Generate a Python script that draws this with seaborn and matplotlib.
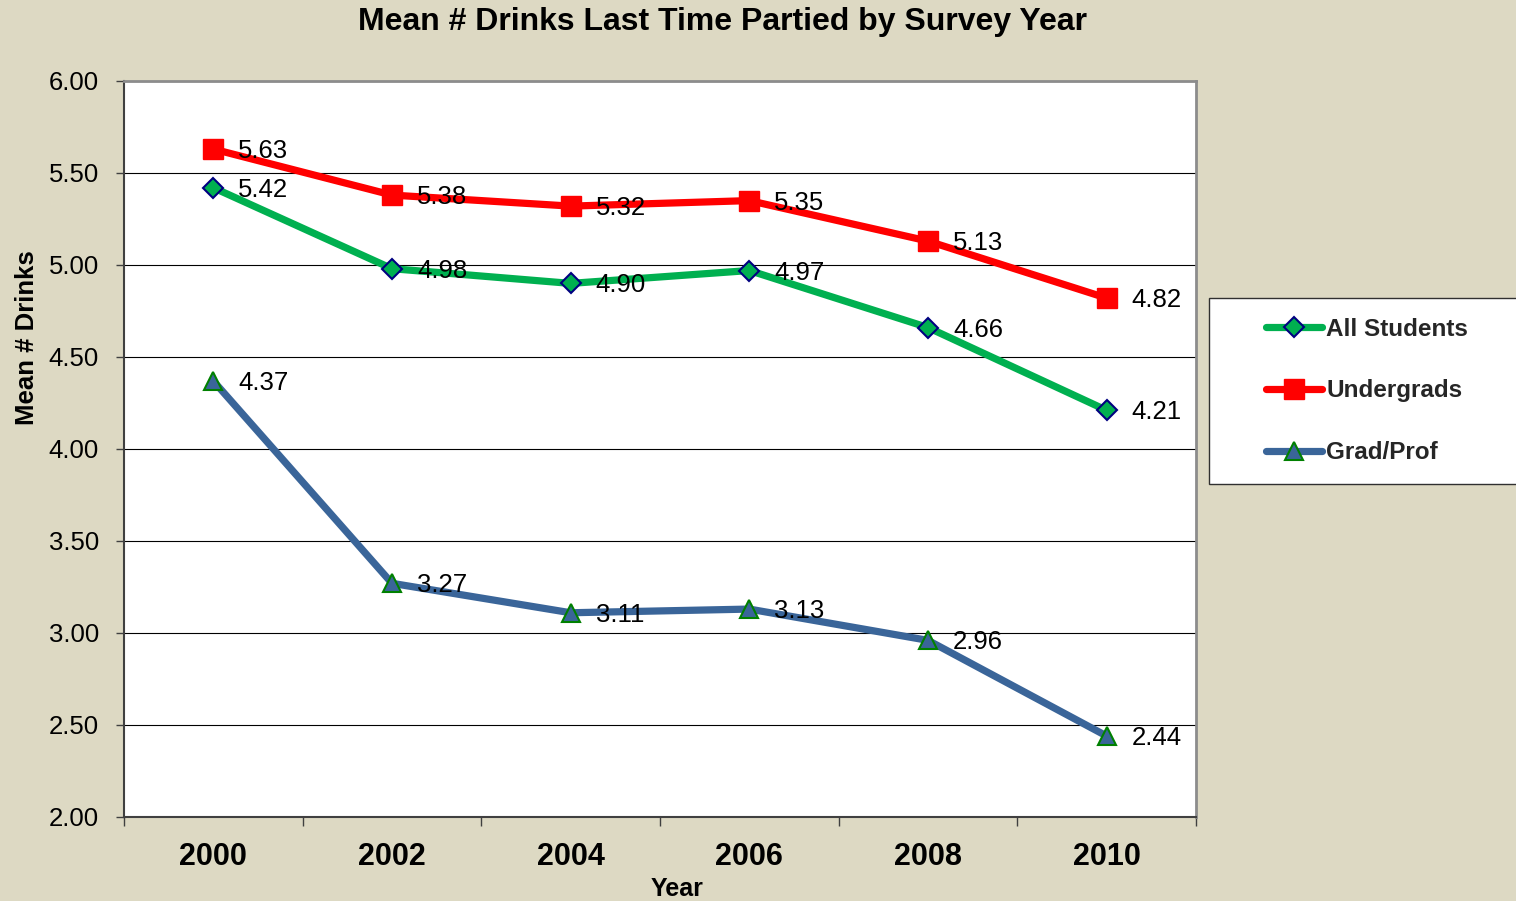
import matplotlib
matplotlib.use("Agg")
import matplotlib.pyplot as plt
import matplotlib.patches as mpatches
from matplotlib.ticker import FixedLocator, MultipleLocator, FormatStrFormatter
import seaborn as sns
import pandas as pd

# Survey data
years = ["2000", "2002", "2004", "2006", "2008", "2010"]
all_students = [5.42, 4.98, 4.90, 4.97, 4.66, 4.21]
undergrads = [5.63, 5.38, 5.32, 5.35, 5.13, 4.82]
grad_prof = [4.37, 3.27, 3.11, 3.13, 2.96, 2.44]
series_names = ["All Students", "Undergrads", "Grad/Prof"]
series_values = [all_students, undergrads, grad_prof]

sns.set_theme(style="white")
plt.rcParams["font.family"] = ["Liberation Sans", "DejaVu Sans"]

BG = "#DDD9C3"
fig = plt.figure(figsize=(15.16, 9.01), dpi=100, facecolor=BG)
ax = fig.add_axes([124 / 1516, 1 - 817 / 901, (1196 - 124) / 1516, (817 - 81) / 901])
ax.set_facecolor("white")

styles = [
    dict(color="#00B050", marker="D", markersize=9.7, markerfacecolor="#00B050",
         markeredgecolor="#000080", markeredgewidth=1.5),
    dict(color="#FF0000", marker="s", markersize=14, markerfacecolor="#FF0000",
         markeredgecolor="#FF0000", markeredgewidth=1),
    dict(color="#3A6599", marker="^", markersize=13, markerfacecolor="#3A6599",
         markeredgecolor="#008000", markeredgewidth=1.5),
]

handles = []
for name, vals, st in zip(series_names, series_values, styles):
    df = pd.DataFrame({"Year": years, "Mean": vals})
    sns.lineplot(data=df, x="Year", y="Mean", ax=ax, linewidth=5.2, errorbar=None,
                 legend=False, zorder=3, **st)
    handles.append(ax.get_lines()[-1])
    for yr, v in zip(years, vals):
        ax.annotate(f"{v:.2f}", xy=(yr, v), xytext=(18, -1.5), textcoords="offset points",
                    ha="left", va="center", fontsize=18.5, color="black", zorder=4)

# Axes limits, ticks and grid
ax.set_xlim(-0.5, 5.5)
ax.set_ylim(2, 6)
ax.yaxis.set_major_locator(MultipleLocator(0.5))
ax.yaxis.set_major_formatter(FormatStrFormatter("%.2f"))
ax.xaxis.set_minor_locator(FixedLocator([k - 0.5 for k in range(7)]))
ax.grid(axis="y", color="black", linewidth=0.8, zorder=0)
ax.grid(axis="x", visible=False)
ax.set_axisbelow(True)

ax.tick_params(axis="y", which="major", left=True, length=6, width=1, color="#404040",
               direction="out", pad=12, labelsize=18.5, labelcolor="black")
ax.tick_params(axis="x", which="major", bottom=True, length=0, pad=18, labelsize=22,
               labelcolor="black")
ax.tick_params(axis="x", which="minor", bottom=True, length=6.5, width=1, color="#404040",
               direction="out")
for lbl in ax.get_xticklabels():
    lbl.set_fontweight("bold")

for s in ["left", "bottom"]:
    ax.spines[s].set_color("#404040")
    ax.spines[s].set_linewidth(1.5)
for s in ["top", "right"]:
    ax.spines[s].set_color("#8C8C8C")
    ax.spines[s].set_linewidth(2)

# Axis labels
ax.set_ylabel("Mean # Drinks", fontsize=18.5, fontweight="bold", color="black")
ax.yaxis.set_label_coords(-0.0905, (817 - 338) / 736)
ax.yaxis.label.set_va("center")
ax.set_xlabel("Year", fontsize=18, fontweight="bold", color="black")
ax.xaxis.set_label_coords((677 - 124) / 1072, (817 - 889) / 736)
ax.xaxis.label.set_va("center")

# Title
fig.text(722 / 1516, 1 - 22 / 901, "Mean # Drinks Last Time Partied by Survey Year",
         ha="center", va="center", fontsize=23, fontweight="bold", color="black")

# Legend box and entries
fig.add_artist(mpatches.Rectangle((1209 / 1516, 1 - 484 / 901), (1530 - 1209) / 1516,
                                  (484 - 298) / 901, transform=fig.transFigure,
                                  facecolor="white", edgecolor="#303030", linewidth=1,
                                  zorder=-1))
fig.legend(handles, series_names, loc="center left",
           bbox_to_anchor=(1266 / 1516, 1 - 391 / 901), frameon=False, borderpad=0,
           borderaxespad=0, handlelength=2.3, handletextpad=0.17, labelspacing=1.6,
           numpoints=1, prop={"size": 17.5, "weight": "bold"})

fig.savefig("out.png", dpi=100, facecolor=BG)
